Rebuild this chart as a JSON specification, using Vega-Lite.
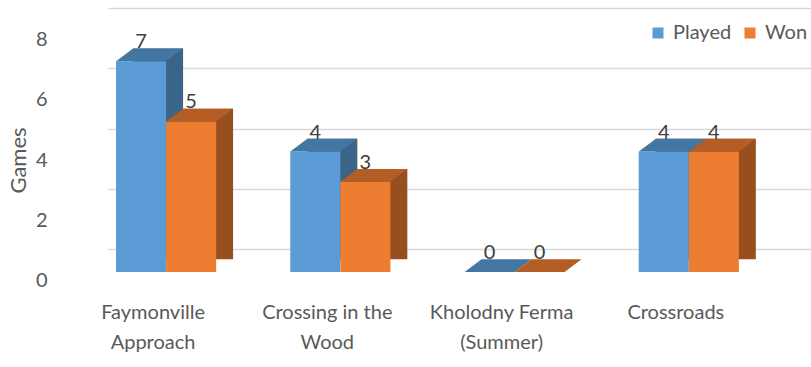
{
  "$schema": "https://vega.github.io/schema/vega-lite/v6.json",
  "autosize": "none",
  "width": 703,
  "height": 241,
  "padding": {"left": 108, "top": 31, "right": 0, "bottom": 95},
  "background": "white",
  "config": {
    "view": {"stroke": null},
    "font": "Lato",
    "text": {"font": "Lato"}
  },
  "data": {
    "values": [
      {"category": "Faymonville Approach", "series": "Played", "value": 7},
      {"category": "Faymonville Approach", "series": "Won", "value": 5},
      {"category": "Crossing in the Wood", "series": "Played", "value": 4},
      {"category": "Crossing in the Wood", "series": "Won", "value": 3},
      {"category": "Kholodny Ferma (Summer)", "series": "Played", "value": 0},
      {"category": "Kholodny Ferma (Summer)", "series": "Won", "value": 0},
      {"category": "Crossroads", "series": "Played", "value": 4},
      {"category": "Crossroads", "series": "Won", "value": 4}
    ]
  },
  "encoding": {
    "x": {
      "field": "category",
      "type": "nominal",
      "sort": ["Faymonville Approach", "Crossing in the Wood", "Kholodny Ferma (Summer)", "Crossroads"],
      "scale": {"paddingInner": 0.4253, "paddingOuter": 0.2299, "align": 0.1},
      "axis": {
        "title": null,
        "labelAngle": 0,
        "ticks": false,
        "domain": false,
        "grid": false,
        "labelFont": "Lato",
        "labelFontSize": 20,
        "labelColor": "#595959",
        "labelPadding": 30,
        "labelOffset": -13,
        "labelLineHeight": 30,
        "labelExpr": "datum.value == 'Faymonville Approach' ? ['Faymonville', 'Approach'] : datum.value == 'Crossing in the Wood' ? ['Crossing in the', 'Wood'] : datum.value == 'Kholodny Ferma (Summer)' ? ['Kholodny Ferma', '(Summer)'] : datum.value"
      }
    },
    "y": {
      "field": "value",
      "type": "quantitative",
      "scale": {"domain": [0, 8], "nice": false},
      "axis": {
        "title": "Games",
        "titleFont": "Lato",
        "titleFontSize": 22,
        "titleFontWeight": "normal",
        "titleColor": "#595959",
        "titleX": -90,
        "titleY": 129,
        "titleAngle": -90,
        "titleAlign": "center",
        "titleBaseline": "middle",
        "values": [0, 2, 4, 6, 8],
        "tickOffset": -23,
        "labelOffset": 31.5,
        "ticks": false,
        "domain": false,
        "labelPadding": 61,
        "labelFont": "Lato",
        "labelFontSize": 20,
        "labelColor": "#595959",
        "gridColor": "#D9D9D9",
        "gridWidth": 1.3
      }
    }
  },
  "layer": [
    {
      "transform": [{"filter": "datum.series == 'Played'"}],
      "mark": {"type": "bar", "width": 50, "xOffset": -8, "yOffset": -12.7, "y2Offset": -12.7, "color": "#3A6488"}
    },
    {
      "transform": [{"filter": "datum.series == 'Won'"}],
      "mark": {"type": "bar", "width": 50, "xOffset": 42, "yOffset": -12.7, "y2Offset": -12.7, "color": "#974F1F"}
    },
    {
      "mark": {"type": "bar"},
      "encoding": {
        "xOffset": {"field": "series", "type": "nominal", "sort": ["Played", "Won"]},
        "color": {
          "field": "series",
          "type": "nominal",
          "scale": {"domain": ["Played", "Won"], "range": ["#5B9BD5", "#ED7D31"]},
          "legend": {
            "title": null,
            "orient": "none",
            "direction": "horizontal",
            "legendX": 540,
            "legendY": -8,
            "padding": 0,
            "symbolType": "square",
            "symbolSize": 121,
            "symbolStrokeWidth": 0,
            "labelFont": "Lato",
            "labelFontSize": 20,
            "labelColor": "#595959",
            "labelOffset": 5,
            "columnPadding": 8
          }
        }
      }
    },
    {
      "transform": [{"filter": "datum.series == 'Played'"}],
      "mark": {"type": "point", "shape": "M-50,0L-33,-12.7L17,-12.7L0,0Z", "size": 4, "filled": true, "opacity": 1, "color": "#4476A2", "strokeWidth": 0}
    },
    {
      "transform": [{"filter": "datum.series == 'Won'"}],
      "mark": {"type": "point", "shape": "M0,0L17,-12.7L67,-12.7L50,0Z", "size": 4, "filled": true, "opacity": 1, "color": "#B45E25", "strokeWidth": 0}
    },
    {
      "mark": {"type": "text", "dy": -13, "baseline": "alphabetic", "fontSize": 20, "font": "Lato", "color": "#404040"},
      "encoding": {
        "xOffset": {"field": "series", "type": "nominal", "sort": ["Played", "Won"]},
        "text": {"field": "value", "type": "quantitative"}
      }
    }
  ]
}
